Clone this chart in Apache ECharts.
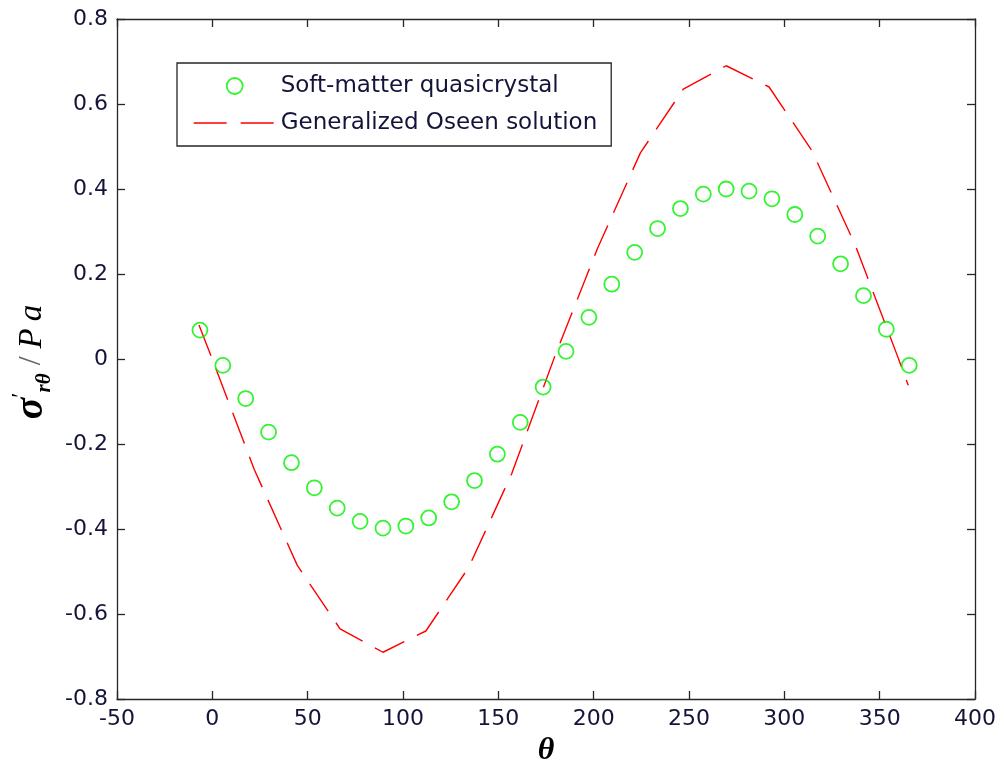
<!DOCTYPE html>
<html>
<head>
<meta charset="utf-8">
<script src="https://cdn.jsdelivr.net/npm/echarts@6/dist/echarts.min.js"></script>
<style>html,body{margin:0;padding:0;background:#fff;}#c{width:1004px;height:775px;}</style>
</head>
<body>
<div id="c"></div>
<script>
// Soft-matter quasicrystal (green circles)
const thetaSoft = [-6.5, 5.5, 17.5, 29.5, 41.5, 53.5, 65.5, 77.5, 89.5, 101.5, 113.5, 125.5, 137.5, 149.5, 161.5, 173.5,
                   185.5, 197.5, 209.5, 221.5, 233.5, 245.5, 257.5, 269.5, 281.5, 293.5, 305.5, 317.5, 329.5, 341.5, 353.5, 365.5];
const sigmaSoft = [0.068, -0.015, -0.093, -0.172, -0.244, -0.303, -0.351, -0.382, -0.398, -0.393, -0.374, -0.336, -0.286, -0.224, -0.149, -0.066,
                   0.018, 0.098, 0.176, 0.251, 0.307, 0.354, 0.388, 0.400, 0.395, 0.377, 0.340, 0.289, 0.224, 0.149, 0.070, -0.015];
// Generalized Oseen solution (red dashed)
const thetaOseen = [-7, -0.5, 22, 44.5, 67, 89.5, 112, 134.5, 157, 179.5, 202, 224.5, 247, 269.5, 292, 314.5, 337, 359.5, 365];
const sigmaOseen = [0.080, 0.005, -0.26, -0.485, -0.635, -0.69, -0.64, -0.49, -0.27, 0.005, 0.26, 0.485, 0.635, 0.69, 0.64, 0.49, 0.27, 0.005, -0.062];
// axes
const xTicks = {min: -50, max: 400, interval: 50};
const yTicks = {min: -0.8, max: 0.8, interval: 0.2};
const names = ['Soft-matter quasicrystal', 'Generalized Oseen solution'];

const textColor = '#14143a';
const axisColor = '#262626';
const green = '#00f000';
const red = '#ff0000';
const redDash = [33, 14];
const chart = echarts.init(document.getElementById('c'));
const axisCommon = {
  axisLine: {show: true, onZero: false, lineStyle: {color: axisColor, width: 1.3}},
  axisTick: {show: true, inside: true, length: 8, lineStyle: {color: axisColor, width: 1.3}},
  splitLine: {show: false}
};
chart.setOption({
  animation: false,
  backgroundColor: '#ffffff',
  grid: {left: 117, right: 29, top: 19, bottom: 76, containLabel: false},
  xAxis: [
    Object.assign({type: 'value', position: 'bottom', min: xTicks.min, max: xTicks.max, interval: xTicks.interval,
      axisLabel: {color: textColor, fontFamily: 'DejaVu Sans', fontSize: 22, margin: 9},
      name: 'θ', nameLocation: 'middle', nameGap: 35,
      nameTextStyle: {fontFamily: 'Liberation Serif', fontStyle: 'italic', fontWeight: 'bold', fontSize: 32, color: '#000'}
    }, axisCommon),
    Object.assign({type: 'value', position: 'top', min: xTicks.min, max: xTicks.max, interval: xTicks.interval,
      axisLabel: {show: false}}, axisCommon)
  ],
  yAxis: [
    Object.assign({type: 'value', position: 'left', min: yTicks.min, max: yTicks.max, interval: yTicks.interval,
      axisLabel: {color: textColor, fontFamily: 'DejaVu Sans', fontSize: 22, margin: 9,
        formatter: v => String(+v.toFixed(1))}
    }, axisCommon),
    Object.assign({type: 'value', position: 'right', min: yTicks.min, max: yTicks.max, interval: yTicks.interval,
      axisLabel: {show: false}}, axisCommon)
  ],
  legend: {
    orient: 'vertical', left: 177, top: 63,
    borderColor: axisColor, borderWidth: 1.3, backgroundColor: '#fff',
    padding: [10, 14, 10, 16], itemGap: 11, itemWidth: 82, itemHeight: 16,
    textStyle: {color: textColor, fontFamily: 'DejaVu Sans', fontSize: 23, lineHeight: 26},
    data: [
      {name: names[0], icon: 'circle', itemStyle: {color: 'rgba(0,0,0,0)', borderColor: green, borderWidth: 1.8}},
      {name: names[1], itemStyle: {opacity: 0, color: 'rgba(0,0,0,0)', borderWidth: 0},
       lineStyle: {color: red, width: 1.4, type: redDash}}
    ]
  },
  series: [
    {
      name: names[1], type: 'line', xAxisIndex: 0, yAxisIndex: 0,
      data: thetaOseen.map((t, i) => [t, sigmaOseen[i]]),
      showSymbol: false, symbol: 'none', smooth: false,
      lineStyle: {color: red, width: 1.4, type: redDash},
      itemStyle: {color: red}, z: 2
    },
    {
      name: names[0], type: 'scatter', xAxisIndex: 0, yAxisIndex: 0,
      data: thetaSoft.map((t, i) => [t, sigmaSoft[i]]),
      symbol: 'circle', symbolSize: 15,
      itemStyle: {color: 'rgba(0,0,0,0)', borderColor: green, borderWidth: 1.8}, z: 3
    }
  ],
  graphic: [{
    type: 'text', x: 32, y: 362, rotation: Math.PI / 2,
    style: {
      text: '{s|σ}{p|′}{sub|rθ}{sl| / }{pa|P}{pa2|a}',
      align: 'center', verticalAlign: 'middle',
      rich: {
        s: {fontFamily: 'Liberation Serif', fontStyle: 'italic', fontWeight: 'bold', fontSize: 40, lineHeight: 46, verticalAlign: 'middle', fill: '#000'},
        p: {fontFamily: 'Liberation Serif', fontSize: 24, lineHeight: 22, verticalAlign: 'top', fill: '#000'},
        sub: {fontFamily: 'Liberation Serif', fontStyle: 'italic', fontWeight: 'bold', fontSize: 21, lineHeight: 22, verticalAlign: 'bottom', fill: '#000'},
        sl: {fontFamily: 'Liberation Serif', fontSize: 32, lineHeight: 46, verticalAlign: 'middle', fill: '#666'},
        pa: {fontFamily: 'Liberation Serif', fontStyle: 'italic', fontSize: 33, lineHeight: 46, verticalAlign: 'middle', fill: '#000'},
        pa2: {fontFamily: 'Liberation Serif', fontStyle: 'italic', fontSize: 33, lineHeight: 46, verticalAlign: 'middle', fill: '#000', padding: [0, 0, 0, 7]}
      }
    }
  }]
});
</script>
</body>
</html>
